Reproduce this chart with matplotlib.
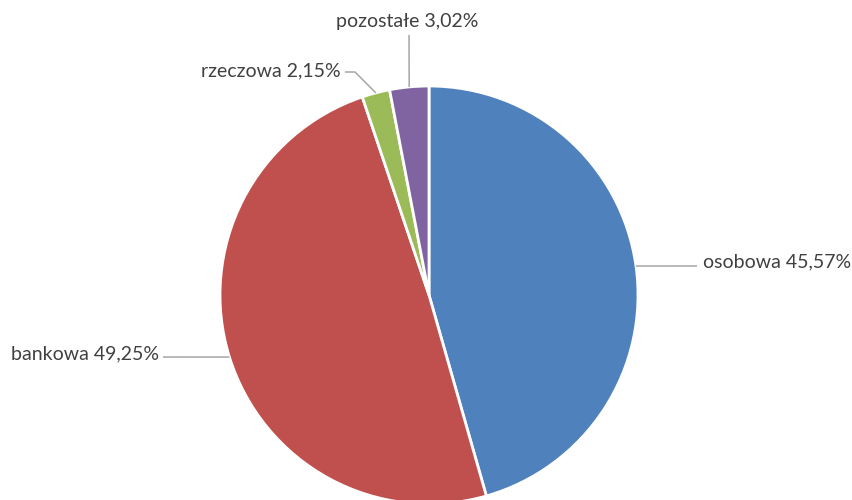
import numpy as np
import matplotlib
matplotlib.use('Agg')
import matplotlib.pyplot as plt

categories = ['osobowa', 'bankowa', 'rzeczowa', 'pozostałe']
shares = [45.57, 49.25, 2.15, 3.02]
colors = ['#4F81BD', '#C0504D', '#9BBB59', '#8064A2']

# pie geometry in pixels (figure is 853x500)
W, H = 853, 500
CX, CY, R = 429, 295, 209


def px(x, y):
    # pixel position -> data coordinates (radius = 1)
    return (x - CX) / R, (CY - y) / R


# label layout: text anchor pixel, alignment, elbow pixel (leader line end near text)
label_layout = {
    'osobowa': dict(text=(703, 262), ha='left', va='center', line_end=(697, 266), elbow=None),
    'bankowa': dict(text=(159, 354), ha='right', va='center', line_end=(163, 357), elbow=None),
    'rzeczowa': dict(text=(341, 71), ha='right', va='center', line_end=(345, 72), elbow=(355, 72)),
    'pozostałe': dict(text=(407, 21), ha='center', va='center', line_end=(409, 35), elbow=None),
}

plt.rcParams['font.family'] = ['Lato', 'DejaVu Sans']

fig = plt.figure(figsize=(W / 100, H / 100), dpi=100)
ax = fig.add_axes([0, 0, 1, 1])

wedges, _ = ax.pie(shares, colors=colors, startangle=90, counterclock=False,
                   radius=1, center=(0, 0),
                   wedgeprops=dict(edgecolor='white', linewidth=2))

x0, y1 = px(0, 0)
x1, y0 = px(W, H)
ax.set_xlim(x0, x1)
ax.set_ylim(y0, y1)
ax.set_aspect('auto')
ax.axis('off')

for wedge, cat, val in zip(wedges, categories, shares):
    mid = np.deg2rad((wedge.theta1 + wedge.theta2) / 2)
    ex, ey = np.cos(mid), np.sin(mid)
    lay = label_layout[cat]
    pts = [(ex, ey)]
    if lay['elbow'] is not None:
        pts.append(px(*lay['elbow']))
    pts.append(px(*lay['line_end']))
    xs, ys = zip(*pts)
    ax.plot(xs, ys, color='#A6A6A6', linewidth=1.1, solid_capstyle='butt')
    tx, ty = px(*lay['text'])
    label = f'{cat} {val:.2f}%'.replace('.', ',')
    ax.text(tx, ty, label, ha=lay['ha'], va=lay['va'], fontsize=14, color='#404040')

fig.savefig('out.png', dpi=100, facecolor='white')
